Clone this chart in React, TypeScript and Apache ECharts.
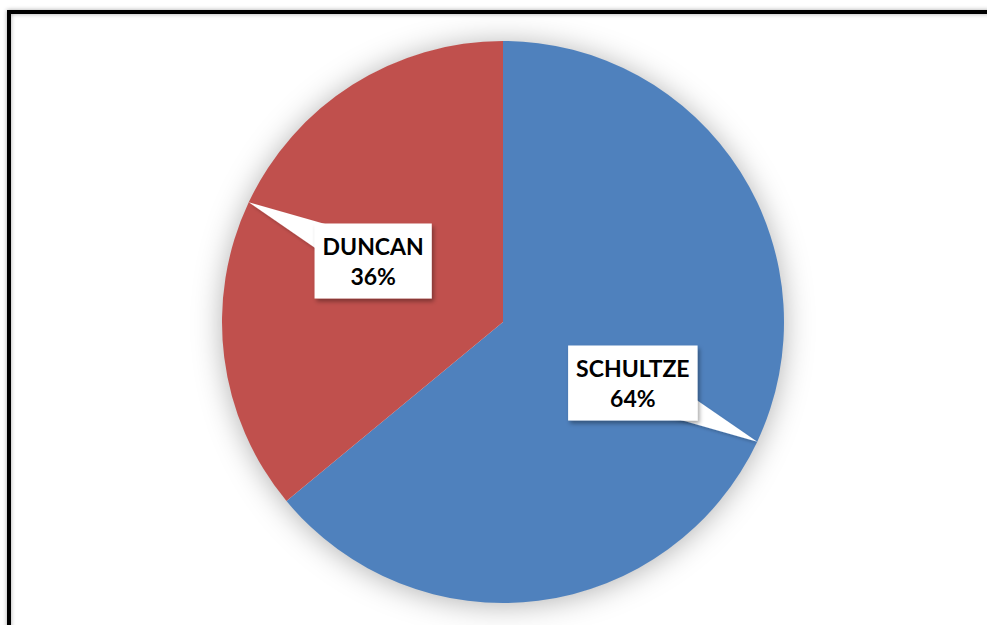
import React, { useEffect, useRef } from "react";
import * as echarts from "echarts";

const categories = ["SCHULTZE", "DUNCAN"];
const values = [64, 36];
const colors = ["#4F81BD", "#C0504D"];

const CX = 503;
const CY = 322;
const R = 281;
const START = 90;

export default function App() {
  const ref = useRef<HTMLDivElement>(null);
  useEffect(() => {
    if (!ref.current) return;
    const chart = echarts.init(ref.current, undefined, { renderer: "svg" });
    const total = values.reduce((a, b) => a + b, 0);
    let acc = 0;
    const wedges: any[] = [];
    values.forEach((v) => {
      const midDeg = START - ((acc + v / 2) / total) * 360;
      acc += v;
      const t = (midDeg * Math.PI) / 180;
      const ux = Math.cos(t);
      const uy = -Math.sin(t);
      const px = -uy;
      const py = ux;
      const tip = [CX + ux * R, CY + uy * R];
      const mx = CX + ux * R * 0.5;
      const my = CY + uy * R * 0.5;
      const hw = 23;
      wedges.push({
        type: "polygon",
        z: 2,
        silent: true,
        shape: {
          points: [tip, [mx + px * hw, my + py * hw], [mx - px * hw, my - py * hw]],
        },
        style: {
          fill: "#ffffff",
          shadowBlur: 3,
          shadowOffsetX: 1,
          shadowOffsetY: 2,
          shadowColor: "rgba(0,0,0,0.2)",
        },
      });
    });
    const data = categories.map((name, i) => ({
      name,
      value: values[i],
      itemStyle: { color: colors[i] },
    }));
    chart.setOption({
      animation: false,
      graphic: [
        {
          type: "rect",
          z: 0,
          silent: true,
          shape: { x: 9, y: 12, width: 1200, height: 900 },
          style: {
            fill: "none",
            stroke: "#000",
            lineWidth: 4,
            shadowBlur: 4,
            shadowColor: "rgba(0,0,0,0.35)",
          },
        },
        {
          type: "circle",
          z: 0,
          silent: true,
          shape: { cx: CX, cy: CY, r: R - 1 },
          style: {
            fill: "#ffffff",
            shadowBlur: 30,
            shadowOffsetY: 2,
            shadowColor: "rgba(0,0,0,0.32)",
          },
        },
        ...wedges,
      ],
      series: [
        {
          type: "pie",
          z: 1,
          center: [CX, CY],
          radius: R,
          startAngle: START,
          clockwise: true,
          silent: true,
          label: { show: false },
          labelLine: { show: false },
          data,
        },
        {
          type: "pie",
          z: 3,
          center: [CX, CY],
          radius: R,
          startAngle: START,
          clockwise: true,
          silent: true,
          itemStyle: { color: "transparent" },
          labelLine: { show: false },
          label: {
            show: true,
            position: "inside",
            formatter: (p: any) => `${p.name}\n${Math.round(p.percent)}%`,
            color: "#000",
            fontFamily: "Lato",
            fontWeight: "bold",
            fontSize: 23,
            lineHeight: 30,
            align: "center",
            backgroundColor: "#ffffff",
            padding: [8, 8, 7, 8],
            shadowBlur: 4,
            shadowOffsetX: 2,
            shadowOffsetY: 3,
            shadowColor: "rgba(0,0,0,0.35)",
          },
          data: categories.map((name, i) => ({
            name,
            value: values[i],
            itemStyle: { color: "transparent" },
          })),
        },
      ],
    });
    return () => chart.dispose();
  }, []);
  return (
    <div
      ref={ref}
      style={{ position: "fixed", left: 0, top: 0, width: 987, height: 625, background: "#fff" }}
    />
  );
}
